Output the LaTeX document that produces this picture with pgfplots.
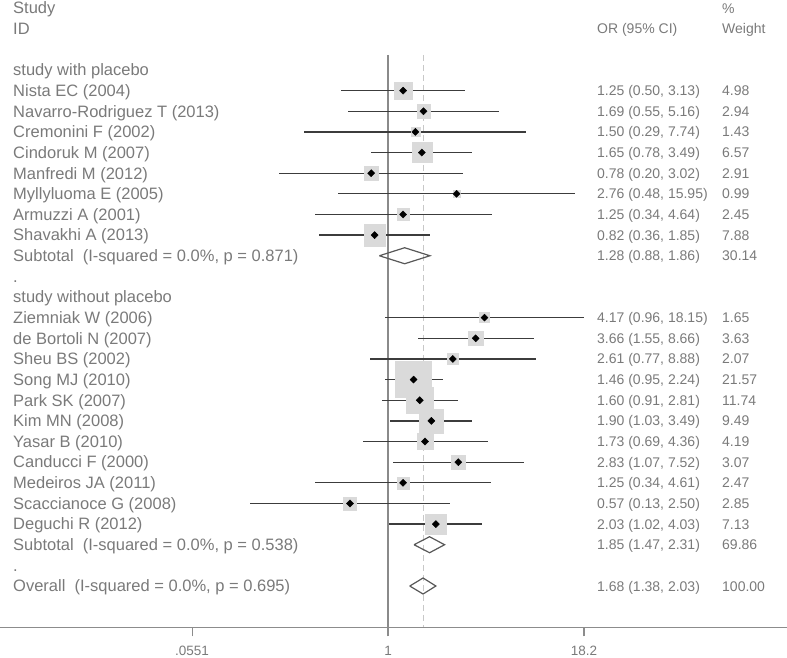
\documentclass[border=0pt]{standalone}
\usepackage{pgfplots}
\pgfplotsset{compat=1.18}
\usepackage{pgfplotstable}
\usepackage{fontspec}
\setmainfont{Liberation Sans}
\definecolor{txt}{HTML}{7A7A7A}
\definecolor{axcol}{HTML}{8C8C8C}
\definecolor{refcol}{HTML}{8A8A8A}
\definecolor{dashcol}{HTML}{C8C8C8}
\definecolor{sqcol}{HTML}{DADADA}
\definecolor{cicol}{HTML}{3C3C3C}
\definecolor{dmcol}{HTML}{585858}
\newcommand\lfont{\fontsize{16.5}{18}\selectfont}
\newcommand\rfont{\fontsize{14}{16}\selectfont}
\newcommand\tfont{\fontsize{13.5}{15}\selectfont}

\pgfplotstableread{
or   lo   hi    w     row
1.25 0.50 3.13  4.98  1
1.69 0.55 5.16  2.94  2
1.50 0.29 7.74  1.43  3
1.65 0.78 3.49  6.57  4
0.78 0.20 3.02  2.91  5
2.76 0.48 15.95 0.99  6
1.25 0.34 4.64  2.45  7
0.82 0.36 1.85  7.88  8
4.17 0.96 18.15 1.65  12
3.66 1.55 8.66  3.63  13
2.61 0.77 8.88  2.07  14
1.46 0.95 2.24  21.57 15
1.60 0.91 2.81  11.74 16
1.90 1.03 3.49  9.49  17
1.73 0.69 4.36  4.19  18
2.83 1.07 7.52  3.07  19
1.25 0.34 4.61  2.47  20
0.57 0.13 2.50  2.85  21
2.03 1.02 4.03  7.13  22
}\studies

\begin{document}
\begin{tikzpicture}
\begin{axis}[
  at={(0pt,0pt)}, anchor=south west,
  width=787pt, height=627.3pt, scale only axis,
  xmin=-2.4936, xmax=2.5643,
  ymin=-27, ymax=3.39,
  axis x line=bottom, axis y line=none,
  axis line style={-, draw=axcol, line width=1.3pt},
  xtick={-1.2588,0,1.2601}, xticklabels={},
  tick align=outside, major tick length=9pt,
  tick style={draw=axcol, line width=1.2pt},
  clip=false,
]
% reference lines
\addplot[draw=refcol, line width=1.2pt] table[x expr=log10(\thisrow{x}), y=y] {
x y
1 0.727
1 -27
};
\addplot[draw=dashcol, line width=1.1pt, dash pattern=on 6pt off 4pt] table[x expr=log10(\thisrow{x}), y=y] {
x y
1.68 0.727
1.68 -27
};
% weight squares
\addplot[scatter, only marks, mark=square*,
  scatter/use mapped color={draw=sqcol, fill=sqcol},
  visualization depends on={3.875*sqrt(\thisrow{w}) \as \msize},
  scatter/@pre marker code/.append style={/tikz/mark size=\msize}]
  table[x expr=log10(\thisrow{or}), y expr=-\thisrow{row}] {\studies};
% confidence intervals
\addplot[draw=none, mark=none,
  error bars/.cd, x dir=both, x explicit,
  error mark=none, error bar style={draw=cicol, line width=1.3pt, solid}]
  table[x expr=log10(\thisrow{or}), y expr=-\thisrow{row},
        x error minus expr=log10(\thisrow{or})-log10(\thisrow{lo}),
        x error plus expr=log10(\thisrow{hi})-log10(\thisrow{or})] {\studies};
% point estimates
\addplot[only marks, mark=square*, mark size=2.5pt, mark options={rotate=45}, black]
  table[x expr=log10(\thisrow{or}), y expr=-\thisrow{row}] {\studies};
% pooled diamonds
\addplot[draw=dmcol, line width=1.2pt, line join=miter] table[x expr=log10(\thisrow{x}), y=y] {
x y
0.88 -9
1.28 -8.612
1.86 -9
1.28 -9.388
0.88 -9
};
\addplot[draw=dmcol, line width=1.2pt, line join=miter] table[x expr=log10(\thisrow{x}), y=y] {
x y
1.47 -23
1.85 -22.612
2.31 -23
1.85 -23.388
1.47 -23
};
\addplot[draw=dmcol, line width=1.2pt, line join=miter] table[x expr=log10(\thisrow{x}), y=y] {
x y
1.38 -25
1.68 -24.612
2.03 -25
1.68 -25.388
1.38 -25
};
\end{axis}

% left column
\foreach \r/\t in {-3/Study, -2/ID, 0/study with placebo,
  1/Nista EC (2004), 2/Navarro-Rodriguez T (2013), 3/Cremonini F (2002),
  4/Cindoruk M (2007), 5/Manfredi M (2012), 6/Myllyluoma E (2005),
  7/Armuzzi A (2001), 8/Shavakhi A (2013),
  9/{Subtotal\ \ (I-squared = 0.0\%, p = 0.871)}, 10/., 11/study without placebo,
  12/Ziemniak W (2006), 13/de Bortoli N (2007), 14/Sheu BS (2002),
  15/Song MJ (2010), 16/Park SK (2007), 17/Kim MN (2008), 18/Yasar B (2010),
  19/Canducci F (2000), 20/Medeiros JA (2011), 21/Scaccianoce G (2008),
  22/Deguchi R (2012), 23/{Subtotal\ \ (I-squared = 0.0\%, p = 0.538)}, 24/.,
  25/{Overall\ \ (I-squared = 0.0\%, p = 0.695)}}
  \node[anchor=base west, inner sep=0pt, text=txt, font=\lfont]
    at ({13pt},{20.64pt*(27-\r)-5.8pt}) {\t};

% right columns
\foreach \r/\a/\b in {-3/{}/\%, -2/{OR (95\% CI)}/Weight,
  1/{1.25 (0.50, 3.13)}/4.98, 2/{1.69 (0.55, 5.16)}/2.94,
  3/{1.50 (0.29, 7.74)}/1.43, 4/{1.65 (0.78, 3.49)}/6.57,
  5/{0.78 (0.20, 3.02)}/2.91, 6/{2.76 (0.48, 15.95)}/0.99,
  7/{1.25 (0.34, 4.64)}/2.45, 8/{0.82 (0.36, 1.85)}/7.88,
  9/{1.28 (0.88, 1.86)}/30.14,
  12/{4.17 (0.96, 18.15)}/1.65, 13/{3.66 (1.55, 8.66)}/3.63,
  14/{2.61 (0.77, 8.88)}/2.07, 15/{1.46 (0.95, 2.24)}/21.57,
  16/{1.60 (0.91, 2.81)}/11.74, 17/{1.90 (1.03, 3.49)}/9.49,
  18/{1.73 (0.69, 4.36)}/4.19, 19/{2.83 (1.07, 7.52)}/3.07,
  20/{1.25 (0.34, 4.61)}/2.47, 21/{0.57 (0.13, 2.50)}/2.85,
  22/{2.03 (1.02, 4.03)}/7.13, 23/{1.85 (1.47, 2.31)}/69.86,
  25/{1.68 (1.38, 2.03)}/100.00}
{
  \node[anchor=base west, inner sep=0pt, text=txt, font=\rfont]
    at ({597pt},{20.64pt*(27-\r)-5pt}) {\a};
  \node[anchor=base west, inner sep=0pt, text=txt, font=\rfont]
    at ({722pt},{20.64pt*(27-\r)-5pt}) {\b};
}

% x tick labels
\node[anchor=base, inner sep=0pt, text=txt, font=\tfont] at (192.1pt,-28.2pt) {.0551};
\node[anchor=base, inner sep=0pt, text=txt, font=\tfont] at (388pt,-28.2pt) {1};
\node[anchor=base, inner sep=0pt, text=txt, font=\tfont] at (584.1pt,-28.2pt) {18.2};

\pgfresetboundingbox
\path[use as bounding box] (0pt,-30.7pt) rectangle (787pt,627.3pt);
\end{tikzpicture}
\end{document}
